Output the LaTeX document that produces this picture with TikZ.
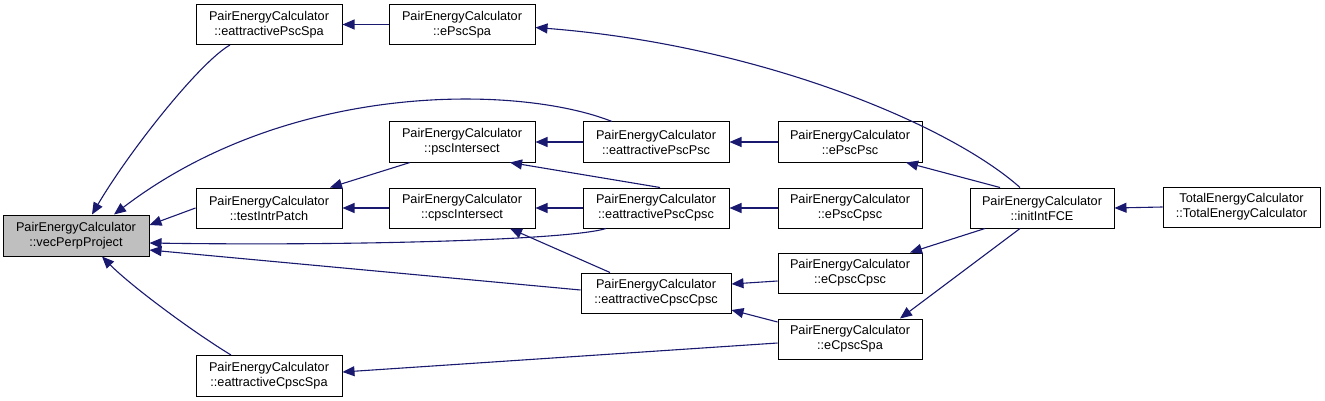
\documentclass[tikz,border=0pt]{standalone}
\usepackage{fontspec}
\setmainfont{Liberation Sans}
\usetikzlibrary{arrows.meta}
\definecolor{edgeblue}{HTML}{191970}
\definecolor{selgray}{HTML}{BFBFBF}
\tikzset{
  fn/.style={draw=black, line width=1pt, minimum width=146pt, minimum height=40pt,
    inner sep=0pt, align=center, font=\fontsize{12.7}{15}\selectfont, fill=white},
  call/.style={draw=edgeblue, line width=1.1pt, -{Triangle[length=12pt,width=10pt]}},
}
\begin{document}
\begin{tikzpicture}[x=1pt,y=-1pt]
\useasboundingbox (0,0) rectangle (1325,401);
% nodes
\node[fn, fill=selgray, minimum height=41pt] (vec) at (76,235.5) {PairEnergyCalculator\\::vecPerpProject};
\node[fn] (eaPscSpa) at (269,24.5) {PairEnergyCalculator\\::eattractivePscSpa};
\node[fn] (ePscSpa) at (462,24.5) {PairEnergyCalculator\\::ePscSpa};
\node[fn] (pscInt) at (462,142) {PairEnergyCalculator\\::pscIntersect};
\node[fn] (cpscInt) at (462,208) {PairEnergyCalculator\\::cpscIntersect};
\node[fn] (testIntr) at (269,208) {PairEnergyCalculator\\::testIntrPatch};
\node[fn, minimum height=41pt] (eaCpscSpa) at (269,376) {PairEnergyCalculator\\::eattractiveCpscSpa};
\node[fn] (eaPscPsc) at (656,142) {PairEnergyCalculator\\::eattractivePscPsc};
\node[fn] (eaPscCpsc) at (656,208) {PairEnergyCalculator\\::eattractivePscCpsc};
\node[fn, minimum width=150pt] (eaCpscCpsc) at (656,293) {PairEnergyCalculator\\::eattractiveCpscCpsc};
\node[fn, minimum width=144pt] (ePscPsc) at (850,142) {PairEnergyCalculator\\::ePscPsc};
\node[fn, minimum width=144pt] (ePscCpsc) at (850,208) {PairEnergyCalculator\\::ePscCpsc};
\node[fn, minimum width=144pt] (eCpscCpsc) at (850,273) {PairEnergyCalculator\\::eCpscCpsc};
\node[fn, minimum width=144pt] (eCpscSpa) at (850,339) {PairEnergyCalculator\\::eCpscSpa};
\node[fn, minimum width=144pt] (initFCE) at (1042,208) {PairEnergyCalculator\\::initIntFCE};
\node[fn, minimum width=157pt] (total) at (1241.5,207) {TotalEnergyCalculator\\::TotalEnergyCalculator};
% edges
\draw[call] ([xshift=-39pt]eaPscSpa.south) .. controls (200,62) and (130,150) .. ([xshift=16pt]vec.north);
\draw[call] (ePscSpa.west) -- (eaPscSpa.east);
\draw[call] ([xshift=-22pt]initFCE.north) .. controls (950,125) and (760,45) .. ([yshift=-3pt]ePscSpa.east);
\draw[call] ([xshift=-44pt]eaPscPsc.north) .. controls (520,85) and (290,80) .. ([xshift=38pt]vec.north);
\draw[call] (eaPscPsc.west) -- (pscInt.east);
\draw[call] (ePscPsc.west) -- (eaPscPsc.east);
\draw[call] ([xshift=-42pt]initFCE.north) -- ([xshift=56pt]ePscPsc.south);
\draw[call] (testIntr.west) -- ([yshift=10.5pt]vec.east);
\draw[call] ([xshift=-52pt]pscInt.south) -- ([xshift=61pt]testIntr.north);
\draw[call] (cpscInt.west) -- (testIntr.east);
\draw[call] ([xshift=4pt]eaPscCpsc.north) -- ([xshift=48pt]pscInt.south);
\draw[call] (eaPscCpsc.west) -- (cpscInt.east);
\draw[call] (ePscCpsc.west) -- (eaPscCpsc.east);
\draw[call] ([xshift=-50pt]eaPscCpsc.south) .. controls (570,240) and (350,246) .. ([yshift=-7.5pt]vec.east);
\draw[call] (total.west) -- (initFCE.east);
\draw[call] ([yshift=3pt]eaCpscCpsc.west) -- ([yshift=-14.5pt]vec.east);
\draw[call] ([xshift=-46pt]eaCpscCpsc.north) -- ([xshift=48pt]cpscInt.south);
\draw[call] ([yshift=-8pt]eCpscCpsc.west) -- ([yshift=9pt]eaCpscCpsc.east);
\draw[call] ([xshift=-57pt]initFCE.south) -- ([xshift=60pt]eCpscCpsc.north);
\draw[call] ([yshift=17pt]eCpscSpa.west) -- ([yshift=-17pt]eaCpscCpsc.east);
\draw[call] ([xshift=-22pt]initFCE.south) -- ([xshift=50pt]eCpscSpa.north);
\draw[call] ([yshift=-4pt]eCpscSpa.west) -- ([yshift=4pt]eaCpscSpa.east);
\draw[call] ([xshift=-38pt]eaCpscSpa.north) .. controls (190,330) and (130,285) .. ([xshift=26pt]vec.south);
\end{tikzpicture}
\end{document}
